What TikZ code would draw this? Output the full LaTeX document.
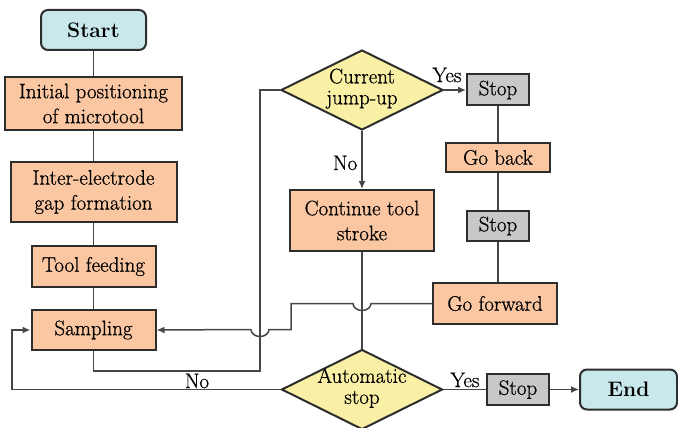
\documentclass[tikz,border=0pt]{standalone}
\usepackage{fontspec}
\setmainfont{Latin Modern Roman}[UprightFeatures={FakeBold=0.7}]
\usetikzlibrary{shapes.geometric,arrows.meta}
\definecolor{peach}{RGB}{250,199,162}
\definecolor{cyanbox}{RGB}{200,232,236}
\definecolor{yel}{RGB}{250,240,165}
\definecolor{grayb}{RGB}{200,200,200}
\definecolor{edge}{RGB}{45,45,45}
\definecolor{conn}{RGB}{70,70,70}
\begin{document}
\begin{tikzpicture}[x=1pt,y=1pt,
  font=\rmfamily\fontsize{21}{25}\selectfont,
  base/.style={draw=edge, line width=2pt, inner sep=0pt, align=center},
  proc/.style={base, rectangle, fill=peach},
  term/.style={base, rectangle, rounded corners=7pt, fill=cyanbox, font=\rmfamily\fontsize{21}{25}\selectfont\bfseries},
  stopbox/.style={base, rectangle, fill=grayb},
  dec/.style={base, diamond, fill=yel},
  link/.style={draw=conn, line width=1.5pt},
  arr/.style={link, -{Latex[length=8pt,width=7pt]}},
  lbl/.style={inner sep=0pt}
]
\useasboundingbox (0,0) rectangle (678,-428);

% left column
\node[term, minimum width=105, minimum height=40] (start) at (93.5,-30) {Start};
\node[proc, minimum width=177, minimum height=53] (init) at (93.5,-103.5) {Initial positioning\\of microtool};
\node[proc, minimum width=166, minimum height=60] (gap) at (93.5,-192) {Inter-electrode\\gap formation};
\node[proc, minimum width=124, minimum height=41] (feed) at (93.5,-266.5) {Tool feeding};
\node[proc, minimum width=124, minimum height=40] (samp) at (93.5,-330) {Sampling};

% middle column
\node[dec, minimum width=162, minimum height=80] (jump) at (362,-90)
  {\makebox[0pt][c]{\raisebox{-4pt}[0pt][0pt]{\begin{tabular}{@{}c@{}}Current\\[-4pt]jump-up\end{tabular}}}};
\node[proc, minimum width=144, minimum height=61] (cont) at (362,-220.5) {Continue tool\\stroke};
\node[dec, minimum width=161, minimum height=80] (auto) at (362,-389.5)
  {\makebox[0pt][c]{\raisebox{-4pt}[0pt][0pt]{\begin{tabular}{@{}c@{}}Automatic\\[-4pt]stop\end{tabular}}}};

% right column
\node[stopbox, minimum width=62, minimum height=31] (stopa) at (498,-90) {Stop};
\node[proc, minimum width=104, minimum height=29] (back) at (498,-157.5) {Go back};
\node[stopbox, minimum width=62, minimum height=30] (stopb) at (498,-226) {Stop};
\node[proc, minimum width=124, minimum height=41] (fwd) at (495,-303.5) {Go forward};
\node[stopbox, minimum width=62, minimum height=31] (stopc) at (518,-389.5) {Stop};
\node[term, minimum width=97, minimum height=40] (endn) at (628.5,-389.5) {End};

% left column links
\draw[link] (start) -- (init);
\draw[link] (init) -- (gap);
\draw[link] (gap) -- (feed);
\draw[link] (feed) -- (samp);

% sampling to current jump-up
\coordinate (sj) at (260,-371);
\draw[link] (samp.south) |- (sj) |- (jump.west);

% jump-up decisions
\draw[arr] (jump.south) -- (cont.north) node[lbl, midway, left=4pt, pos=0.55] {No};
\draw[arr] (jump.east) -- (stopa.west);
\node[lbl] (yes1) at (447,-75) {Yes};

% right column chain
\draw[link] (stopa) -- (back);
\draw[link] (back) -- (stopb);
\draw[link] (stopb.south) -- (stopb.south |- fwd.north);

% go forward back to sampling with hops
\coordinate (h1) at (371,-303.5);
\coordinate (st1) at (291,-303.5);
\coordinate (st2) at (291,-329.5);
\coordinate (h2) at (269,-329.5);
\draw[link] (fwd.west) -- (h1) arc[start angle=0, end angle=-180, x radius=9, y radius=7]
  -- (st1) -- (st2) -- (h2) arc[start angle=0, end angle=-180, x radius=9, y radius=7];
\draw[arr] (251,-329.5) -- (samp.east);

% continue to automatic stop
\draw[link] (cont.south) -- (auto.north);

% automatic stop decisions
\coordinate (al) at (12,-389.5);
\draw[arr] (auto.west) -- (al) |- (samp.west);
\node[lbl] (no2) at (197,-381) {No};
\draw[link] (auto.east) -- (stopc.west);
\node[lbl] (yes2) at (465,-380) {Yes};
\draw[arr] (stopc.east) -- (endn.west);
\end{tikzpicture}
\end{document}
